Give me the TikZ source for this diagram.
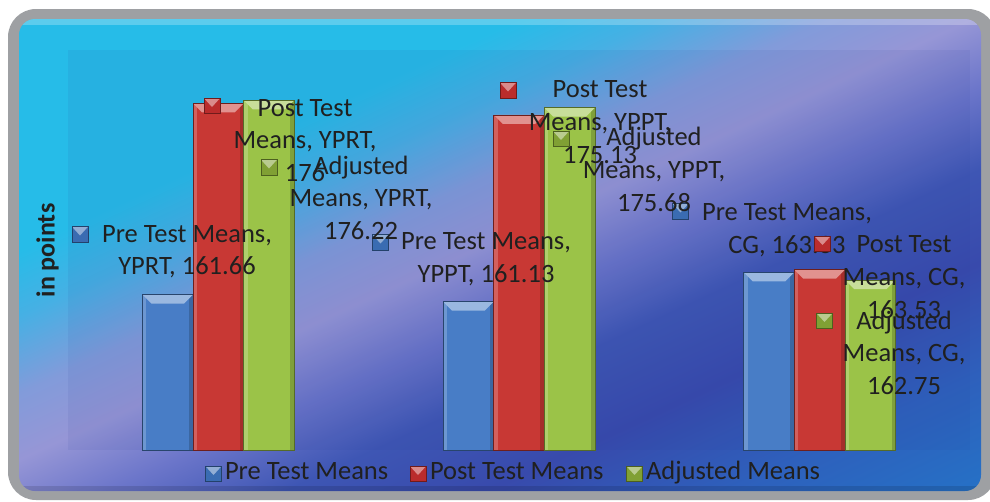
\documentclass[tikz,border=0pt]{standalone}
\usepackage{fontspec}
\setmainfont{Carlito}
\definecolor{bgA}{RGB}{38,188,232}
\definecolor{bgB}{RGB}{70,176,228}
\definecolor{bgC}{RGB}{130,155,218}
\definecolor{bgD}{RGB}{150,150,214}
\definecolor{bgE}{RGB}{108,118,202}
\definecolor{bgF}{RGB}{62,86,180}
\definecolor{bgG}{RGB}{56,74,172}
\definecolor{bgH}{RGB}{46,96,188}
\definecolor{bgI}{RGB}{34,120,202}
\definecolor{frame}{RGB}{158,160,163}
\definecolor{plotov}{RGB}{40,60,150}
\definecolor{txt}{RGB}{32,32,32}
\definecolor{barB}{RGB}{72,125,198}
\definecolor{barR}{RGB}{200,56,52}
\definecolor{barG}{RGB}{155,195,72}
\definecolor{mkB}{RGB}{58,108,178}
\definecolor{mkR}{RGB}{186,44,44}
\definecolor{mkG}{RGB}{128,160,52}
\pgfdeclarehorizontalshading{bgshade}{2400pt}{color(0pt)=(bgA); color(235pt)=(bgA); color(295pt)=(bgB); color(365pt)=(bgC); color(425pt)=(bgD); color(490pt)=(bgE); color(565pt)=(bgF); color(650pt)=(bgG); color(750pt)=(bgH); color(900pt)=(bgI)}
\newcommand\drawbar[4]{%
  \fill[#4] (#1,#3) rectangle (#2,450);
  \fill[#4!80!white] (#1,#3) rectangle ({#1+4},450);
  \fill[#4!82!black] ({#2-4},#3) rectangle (#2,450);
  \fill[#4!55!white] (#1,#3) -- (#2,#3) -- ({#2-9},{#3+9}) -- ({#1+9},{#3+9}) -- cycle;
  \draw[#4!55!black, line width=0.8pt] (#1,#3) rectangle (#2,450);
}
\newcommand\mkr[4]{%
  \node[mkbox, fill=#4] (#1) at (#2,#3) {};
  \fill[#4!55!white] (#1.north west) -- (#1.north east) -- ([yshift=-1pt]#1.center) -- cycle;
  \draw[#4!60!black, line width=0.6pt] (#1.south west) rectangle (#1.north east);
}
\tikzset{
  mkbox/.style={rectangle, minimum width=16pt, minimum height=15.5pt, inner sep=0pt, outer sep=0pt},
  lbl/.style={inner sep=0pt, outer sep=0pt, text=txt, font=\fontsize{26.5}{32.5}\selectfont, anchor=base},
  leg/.style={lbl, anchor=base west},
}
\begin{document}
\begin{tikzpicture}[x=1pt, y=-1pt]
\useasboundingbox (0,0) rectangle (990,501);
\fill[white] (0,0) rectangle (990,501);
\fill[frame, rounded corners=28pt] (8,9) rectangle (996,500);
\begin{scope}
  \clip[rounded corners=16pt] (19,19) rectangle (981,491);
  \node[inner sep=0pt, outer sep=0pt, anchor=west, rotate=-65.2] (bg) at (0,0) {\pgfuseshading{bgshade}};
  \fill[white, opacity=0.25] (19,19) rectangle (981,25);
  \fill[black, opacity=0.12] (19,486) rectangle (981,491);
\end{scope}
\fill[plotov, opacity=0.08] (68,50) rectangle (970,450);
% bars
\drawbar{142.3}{193}{294.5}{barB}
\drawbar{193}{243.7}{103.3}{barR}
\drawbar{243.7}{294.3}{100.4}{barG}
\drawbar{443}{493.7}{301.6}{barB}
\drawbar{493.7}{544.3}{114.9}{barR}
\drawbar{544.3}{595}{107.6}{barG}
\drawbar{743.7}{794.3}{272.3}{barB}
\drawbar{794.3}{845}{269.6}{barR}
\drawbar{845}{895.7}{280}{barG}
% axis title
\node[inner sep=0pt, text=txt, font=\bfseries\fontsize{26}{30}\selectfont, rotate=90] (ytitle) at (47.5,250.5) {in points};
% Pre Test labels
\mkr{mb1}{80}{234.5}{mkB}
\node[lbl] (tb1a) at (187,242) {Pre Test Means,};
\node[lbl] (tb1b) at (187,274.5) {YPRT, 161.66};
\mkr{mb2}{380.5}{242.5}{mkB}
\node[lbl] (tb2a) at (486,249) {Pre Test Means,};
\node[lbl] (tb2b) at (486,282) {YPPT, 161.13};
\mkr{mb3}{680.5}{211.5}{mkB}
\node[lbl] (tb3a) at (787,220) {Pre Test Means,};
\node[lbl] (tb3b) at (787,253) {CG, 163.33};
% Post Test labels
\mkr{mr1}{212}{106}{mkR}
\node[lbl] (tr1a) at (305,116) {Post Test};
\node[lbl] (tr1b) at (305,148.5) {Means, YPRT,};
\node[lbl] (tr1c) at (305,181) {176};
\mkr{mr2}{508}{90.5}{mkR}
\node[lbl] (tr2a) at (600,97) {Post Test};
\node[lbl] (tr2b) at (600,130) {Means, YPPT,};
\node[lbl] (tr2c) at (600,163) {175.13};
\mkr{mr3}{822.5}{244}{mkR}
\node[lbl] (tr3a) at (904,252) {Post Test};
\node[lbl] (tr3b) at (904,285) {Means, CG,};
\node[lbl] (tr3c) at (904,318) {163.53};
% Adjusted labels
\mkr{mg1}{269}{167.5}{mkG}
\node[lbl] (tg1a) at (361,174) {Adjusted};
\node[lbl] (tg1b) at (361,206.5) {Means, YPRT,};
\node[lbl] (tg1c) at (361,239) {176.22};
\mkr{mg2}{561}{139}{mkG}
\node[lbl] (tg2a) at (654,145) {Adjusted};
\node[lbl] (tg2b) at (654,178) {Means, YPPT,};
\node[lbl] (tg2c) at (654,211) {175.68};
\mkr{mg3}{824.5}{321}{mkG}
\node[lbl] (tg3a) at (904,329) {Adjusted};
\node[lbl] (tg3b) at (904,361.5) {Means, CG,};
\node[lbl] (tg3c) at (904,394) {162.75};
% legend
\mkr{lgb}{213.5}{474}{mkB}
\node[leg] (lgbt) at (225,479) {Pre Test Means};
\mkr{lgr}{418}{474}{mkR}
\node[leg] (lgrt) at (430,479) {Post Test Means};
\mkr{lgg}{634.5}{474}{mkG}
\node[leg] (lggt) at (646,479) {Adjusted Means};
\end{tikzpicture}
\end{document}
